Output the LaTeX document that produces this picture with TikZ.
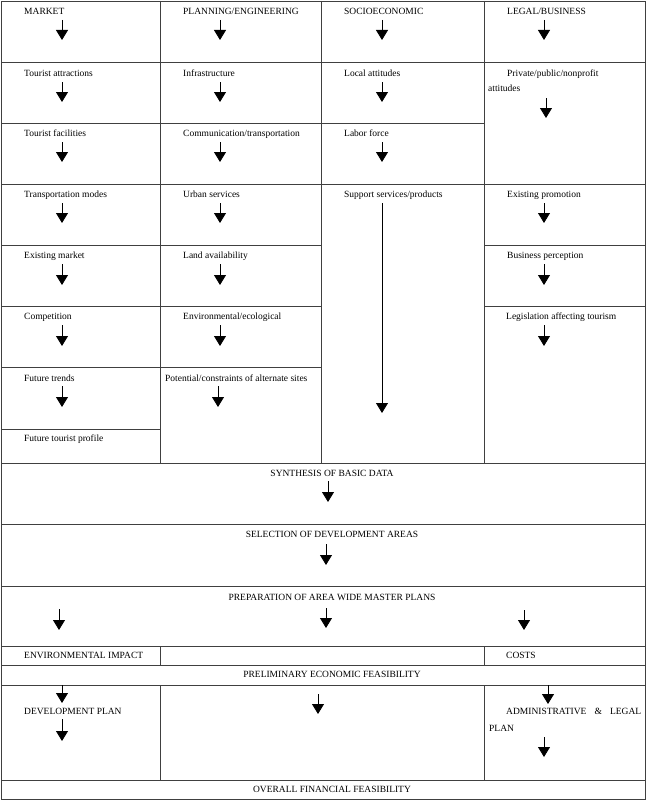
\documentclass[tikz,border=0pt]{standalone}
\usepackage{fontspec}
\setmainfont{Liberation Serif}
\usetikzlibrary{arrows.meta}

\begin{document}
\begin{tikzpicture}[x=1pt, y=-1pt,
    rule/.style={draw=black!75, line width=0.8pt},
    txt/.style={anchor=base west, inner sep=0pt, font=\fontsize{9.5}{11}\selectfont},
    mid/.style={anchor=base, inner sep=0pt, font=\fontsize{9.5}{11}\selectfont},
    arr/.style={-{Triangle[width=12pt, length=10pt]}, line width=0.8pt}
  ]
  \useasboundingbox (0,0) rectangle (646,800);

  % frame and rulings
  \draw[rule] (1,1) rectangle (645,799);
  \draw[rule] (160,1) -- (160,463) (321,1) -- (321,463) (484,1) -- (484,463);
  \foreach \y in {62,184,463,524,586,646,665,685,780}
    \draw[rule] (1,\y) -- (645,\y);
  \draw[rule] (1,123) -- (484,123);
  \draw[rule] (1,245) -- (321,245) (484,245) -- (645,245);
  \draw[rule] (1,306) -- (321,306) (484,306) -- (645,306);
  \draw[rule] (1,367) -- (321,367);
  \draw[rule] (1,429) -- (160,429);
  \draw[rule] (160,646) -- (160,665) (484,646) -- (484,665);
  \draw[rule] (160,685) -- (160,780) (484,685) -- (484,780);

  % market column
  \node[txt] (market)  at (24,14.5)  {MARKET};
  \node[txt] (attract) at (24,76)    {Tourist attractions};
  \node[txt] (facil)   at (24,136)   {Tourist facilities};
  \node[txt] (modes)   at (24,197.5) {Transportation modes};
  \node[txt] (exmkt)   at (24,258.5) {Existing market};
  \node[txt] (compet)  at (24,319.5) {Competition};
  \node[txt] (trends)  at (24,381)   {Future trends};
  \node[txt] (profile) at (24,441.5) {Future tourist profile};

  % planning column
  \node[txt] (planning) at (183,14.5)  {PLANNING/ENGINEERING};
  \node[txt] (infra)    at (183,76)    {Infrastructure};
  \node[txt] (comm)     at (183,136)   {Communication/transportation};
  \node[txt] (urban)    at (183,197.5) {Urban services};
  \node[txt] (land)     at (183,258.5) {Land availability};
  \node[txt] (enveco)   at (183,319.5) {Environmental/ecological};
  \node[txt] (sites)    at (165,381)   {Potential/constraints of alternate sites};

  % socioeconomic column
  \node[txt] (socio)   at (344,14.5)  {SOCIOECONOMIC};
  \node[txt] (local)   at (344,76)    {Local attitudes};
  \node[txt] (labor)   at (344,136)   {Labor force};
  \node[txt] (support) at (344,197.5) {Support services/products};

  % legal column
  \node[txt] (legal)   at (507,14.5)  {LEGAL/BUSINESS};
  \node[txt] (private) at (507,76.5)  {Private/public/nonprofit};
  \node[txt] (attit)   at (488,91.5)  {attitudes};
  \node[txt] (promo)   at (507,197.5) {Existing promotion};
  \node[txt] (percep)  at (507,258.5) {Business perception};
  \node[txt] (legis)   at (506,319.5) {Legislation affecting tourism};

  % lower stages
  \node[mid] (synth)   at (332,476.5) {SYNTHESIS OF BASIC DATA};
  \node[mid] (select)  at (332,537.5) {SELECTION OF DEVELOPMENT AREAS};
  \node[mid] (prep)    at (332,600)   {PREPARATION OF AREA WIDE MASTER PLANS};
  \node[txt] (envimp)  at (24,658.5)  {ENVIRONMENTAL IMPACT};
  \node[txt] (costs)   at (506,658.5) {COSTS};
  \node[mid] (prelim)  at (332,677.5) {PRELIMINARY ECONOMIC FEASIBILITY};
  \node[txt] (devplan) at (24,714.5)  {DEVELOPMENT PLAN};
  \node[txt, text width=135pt] (admin) at (506,714.5) {ADMINISTRATIVE\hfill\&\hfill LEGAL};
  \node[txt] (plan)    at (489,731.5) {PLAN};
  \node[mid] (overall) at (332,792.5) {OVERALL FINANCIAL FEASIBILITY};

  % arrows: x / top / tip
  \foreach \x/\a/\b in {62/20/40, 62/82/102, 62/142/162, 62/203/223, 62/264/285,
      62/325/346, 62/386/407,
      220/20/40, 220/82/102, 220/142/162, 220/203/223, 220/264/285, 220/325/346,
      218/386/407,
      382/20/40, 382/82/102, 382/142/162, 382/203/413,
      544/20/40, 546/98/118, 544/203/223, 544/264/285, 544/325/346,
      328/481/502, 326/544/565,
      59/609/630, 326/608/628, 524/610/630,
      62/685/703, 62/719/741, 318/694/714, 548/685/704, 544/737/757}
    \draw[arr] (\x,\a) -- (\x,\b);
\end{tikzpicture}
\end{document}
